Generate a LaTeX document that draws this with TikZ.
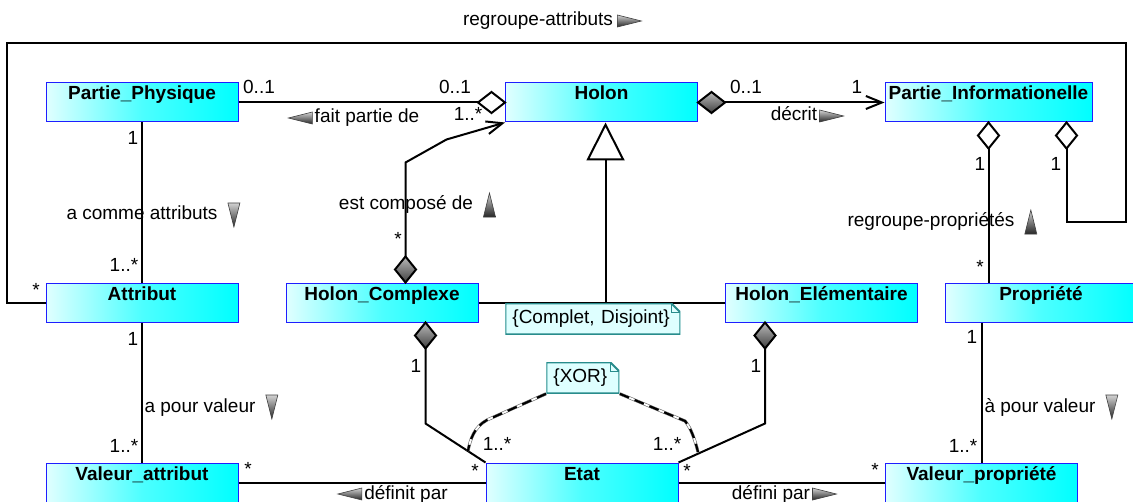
\documentclass[tikz,border=0pt]{standalone}
\usepackage{fontspec}
\setmainfont{Liberation Sans}
\usetikzlibrary{arrows.meta,positioning,shapes.geometric}
\definecolor{classblue}{RGB}{30,30,255}
\definecolor{notecol}{RGB}{40,140,140}
\definecolor{notefill}{RGB}{222,255,255}
\newcommand{\diafont}{\fontsize{9.5}{11.4}\selectfont}
\tikzset{
  >={Straight Barb[length=8pt,width=6.5pt]},
  cls/.style={rectangle,draw=classblue,line width=0.5pt,left color=cyan!12,right color=cyan,
    middle color=cyan!70,
    minimum width=96pt,minimum height=19.5pt,inner sep=0pt,text height=8.5pt,text depth=11pt,
    font=\diafont\bfseries},
  assoc/.style={line width=1pt,draw=black},
  lab/.style={inner sep=0pt,text height=7pt,text depth=2pt,font=\diafont},
  agg/.style={diamond,draw=black,line width=1pt,fill=white,inner sep=0pt,outer sep=0pt,
    minimum width=13.5pt,minimum height=10.5pt},
  vagg/.style={agg,minimum width=10.5pt,minimum height=13pt},
  filled/.style={top color=gray!55,bottom color=black!75},
  note/.style={anchor=north west,inner xsep=3.5pt,inner ysep=0pt,minimum height=15.5pt,
    text height=7pt,text depth=2pt,align=left,font=\diafont,
    path picture={
      \filldraw[fill=notefill,draw=notecol,line width=1pt]
        (path picture bounding box.south west) -- (path picture bounding box.north west)
        -- ([xshift=-4.5pt]path picture bounding box.north east)
        -- ([yshift=-4.5pt]path picture bounding box.north east)
        -- (path picture bounding box.south east) -- cycle;
      \draw[notecol,line width=0.5pt] ([xshift=-4.5pt]path picture bounding box.north east)
        |- ([yshift=-4.5pt]path picture bounding box.north east);
    }},
  xorline/.style={draw=black,line width=1.1pt,dash pattern=on 5pt off 3pt,
    preaction={draw=black!60,solid,line width=0.3pt,double=white,double distance=0.9pt}},
  % direction marker, pointing up
  pics/dirtri/.style={code={
    \shade[top color=gray!35,bottom color=black!85,draw=black!75,line width=0.3pt]
      (0,-12) -- (6,12) -- (-6,12) -- cycle;
  }},
}

\begin{document}
\begin{tikzpicture}[x=0.5pt,y=-0.5pt]
  \fill[white] (0,0) rectangle (1133,502);
  \useasboundingbox (0,0) rectangle (1133,502);

  % classes
  \node[cls] (pphys) at (142,102.5) {Partie\_Physique};
  \node[cls] (holon) at (601.5,102.5) {Holon};
  \node[cls,minimum width=103.5pt] (pinfo) at (988.5,102.5) {Partie\_Informationelle};
  \node[cls] (attr) at (142,302.5) {Attribut};
  \node[cls] (hc) at (382,302.5) {Holon\_Complexe};
  \node[cls] (he) at (821.5,302.5) {Holon\_Elémentaire};
  \node[cls] (prop) at (1041,302.5) {Propriété};
  \node[cls] (vattr) at (142,482.5) {Valeur\_attribut};
  \node[cls] (etat) at (582,482.5) {Etat};
  \node[cls] (vprop) at (981.5,482.5) {Valeur\_propriété};

  % diamonds
  \node[agg,anchor=east] (dHl) at (holon.west) {};
  \node[agg,filled,anchor=west] (dHr) at (holon.east) {};
  \node[vagg,filled,anchor=south] (dHCt) at ([xshift=60pt]hc.north west) {};
  \node[vagg,filled,anchor=north] (dHCb) at ([xshift=70pt]hc.south west) {};
  \node[vagg,filled,anchor=north] (dHEb) at ([xshift=20pt]he.south west) {};
  \node[vagg,anchor=north] (dPI1) at (pinfo.south) {};
  \node[vagg,anchor=north] (dPI2) at ([xshift=-13pt]pinfo.south east) {};

  % role names
  \node[lab] (lRegA) at (538,21) {regroupe-attributs};
  \node[lab] (lFait) at (367,118) {fait partie de};
  \node[lab] (lDecrit) at (794,116) {décrit};
  \node[lab] (lComme) at (142,215) {a comme attributs};
  \node[lab] (lCompose) at (406,205) {est composé de};
  \node[lab] (lRegP) at (931,222) {regroupe-propriétés};
  \node[lab] (lValA) at (200,407) {a pour valeur};
  \node[lab] (lValP) at (1040,407) {à pour valeur};
  \node[lab] (lDefA) at (406,494) {définit par};
  \node[lab] (lDefP) at (771,494) {défini par};
  \pic[rotate=-90] at ([xshift=8pt]lRegA.east) {dirtri};
  \pic[rotate=90] at ([xshift=-7pt]lFait.west) {dirtri};
  \pic[rotate=-90] at ([xshift=7pt]lDecrit.east) {dirtri};
  \pic[rotate=180] at ([xshift=8pt]lComme.east) {dirtri};
  \pic at ([xshift=8pt]lCompose.east) {dirtri};
  \pic at ([xshift=8pt]lRegP.east) {dirtri};
  \pic[rotate=180] at ([xshift=8pt]lValA.east) {dirtri};
  \pic[rotate=180] at ([xshift=8pt]lValP.east) {dirtri};
  \pic[rotate=90] at ([xshift=-7pt]lDefA.west) {dirtri};
  \pic[rotate=-90] at ([xshift=7pt]lDefP.east) {dirtri};

  % multiplicities
  \node[lab] (mPPh) at (259,89) {0..1};
  \node[lab] (mHl) at (455,89) {0..1};
  \node[lab] (mHl2) at (468,116) {1..*};
  \node[lab] (mHr) at (746,89) {0..1};
  \node[lab] (mPI) at (857,89) {1};
  \node[lab] (mPPb) at (133,140) {1};
  \node[lab] (mAt) at (124,266) {1..*};
  \node[lab] (mAtl) at (36,291) {*};
  \node[lab] (mHCt) at (398,240) {*};
  \node[lab] (mAtb) at (133,340) {1};
  \node[lab] (mVA) at (124,447) {1..*};
  \node[lab] (mVAr) at (248,470) {*};
  \node[lab] (mHCb) at (416,367) {1};
  \node[lab] (mEl) at (475,472) {*};
  \node[lab] (mEl2) at (497,445) {1..*};
  \node[lab] (mEr2) at (667,445) {1..*};
  \node[lab] (mEr) at (687,472) {*};
  \node[lab] (mHEb) at (756,367) {1};
  \node[lab] (mVPl) at (875,471) {*};
  \node[lab] (mVP) at (963,447) {1..*};
  \node[lab] (mPrb) at (972,338) {1};
  \node[lab] (mPI1) at (980,166) {1};
  \node[lab] (mPI2) at (1056,166) {1};
  \node[lab] (mPr) at (980,268) {*};

  % associations
  \draw[assoc] (attr.west) -| (7,43) -| (1126,222) -| (dPI2.south);
  \draw[assoc] (pphys.east) -- (dHl.west);
  \draw[assoc,->] (dHr.east) -- (pinfo.west);
  \draw[assoc] (pphys.south) -- (attr.north);
  \draw[assoc] (attr.south) -- (vattr.north);
  \draw[assoc,->] (dHCt.north) -- ++(0,-94) -- ++(41,-23) -- (holon.south west);
  \draw[assoc] (dHCb.south) -- ++(0,75) -- (etat.north west);
  \draw[assoc] (dHEb.south) -- ++(0,75) -- (etat.north east);
  \draw[assoc] (dPI1.south) -- (dPI1.south |- prop.north);
  \draw[assoc] (vprop.north |- prop.south) -- (vprop.north);
  \draw[assoc] (vattr.east) -- (etat.west);
  \draw[assoc] (etat.east) -- (vprop.west);

  % generalization
  \coordinate (gen) at ([xshift=2pt]holon.south);
  \draw[assoc] (hc.east) -- (he.west);
  \draw[assoc,-{Triangle[open,length=19pt,width=19pt]}] (gen |- hc.east) -- (gen);

  % constraints
  \node[note,text width=80.5pt] (cd) at (505,303) {\{Complet, Disjoint\}};
  \node[note,text width=29.5pt] (xor) at (546,362) {\{XOR\}};
  \coordinate (xorL) at (468,451);
  \coordinate (xorR) at (698,452);
  \draw[xorline] (xor.south west) -- (487,420) .. controls (474,427) and (470,440) .. (xorL);
  \draw[xorline] (xor.south east) -- (685,421) .. controls (691,428) and (695,440) .. (xorR);
\end{tikzpicture}
\end{document}
